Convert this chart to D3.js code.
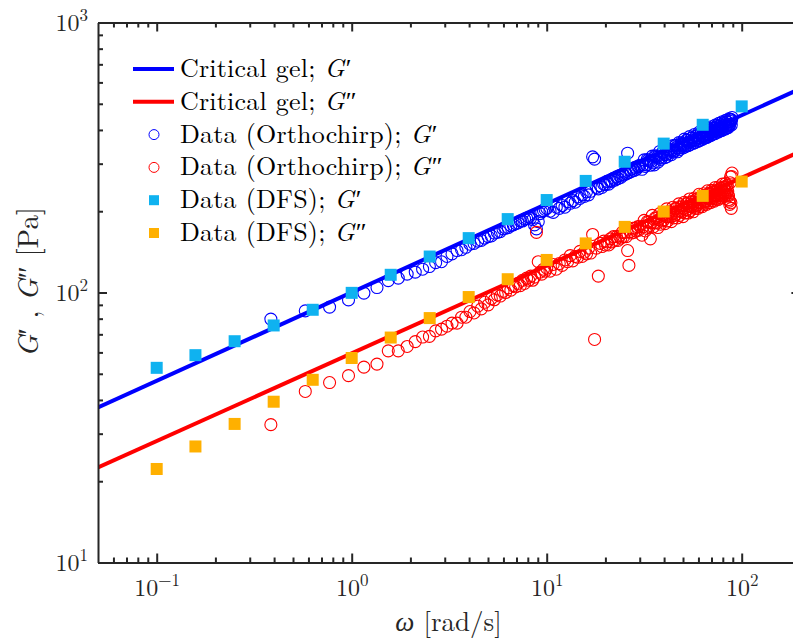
<!DOCTYPE html>
<html>
<head>
<meta charset="utf-8">
<script src="https://cdn.jsdelivr.net/npm/d3@7"></script>
<style>
  body { margin: 0; background: #fff; }
  svg text { font-family: "Latin Modern Roman", "CMU Serif", "Liberation Serif", "Times New Roman", serif; }
</style>
</head>
<body>
<svg id="chart" width="793" height="641"></svg>
<script>
// critical gel fit, evaluated at both ends of the x range
var gelOmega = [0.05, 200];
var gelGp = [37.5, 569];
var gelGpp = [22.5, 333];

// DFS (frequency sweep), 5 points per decade
var dfsOmega = [0.1, 0.158, 0.251, 0.398, 0.631, 1, 1.585, 2.512, 3.981, 6.31, 10, 15.85, 25.12, 39.81, 63.1, 100];
var dfsGp = [52.6, 58.6, 66.0, 75.5, 86.3, 99.7, 116.3, 135.9, 159, 187, 220, 259, 305, 356, 418, 489];
var dfsGpp = [22.2, 26.9, 32.6, 39.4, 47.5, 57.2, 68.1, 80.4, 96.2, 112, 132, 152, 175, 199.5, 228, 257.6];

// orthochirp
var orthoOmega = [
  0.385, 0.578, 0.770, 0.963, 1.155, 1.348, 1.540, 1.733, 1.925, 2.118, 2.310, 2.503, 2.695, 2.888,
  3.08, 3.27, 3.47, 3.66, 3.85, 4.04, 4.24, 4.43, 4.62, 4.81, 5.01, 5.20, 5.39, 5.58, 5.78, 5.97,
  6.16, 6.35, 6.55, 6.74, 6.93, 7.12, 7.32, 7.51, 7.70, 7.89, 8.09, 8.28, 8.47, 8.66, 8.86, 9.05,
  9.24, 9.43, 9.63, 9.82, 10.01,
  10.4, 10.8, 11.2, 11.6, 12, 12.4, 12.8, 13.2, 13.6, 14, 14.4, 14.8, 15.2, 15.6, 16, 16.4, 16.8,
  17.2, 17.6, 18, 18.4, 18.8, 19.2, 19.6, 20, 20.4, 20.8, 21.2, 21.6, 22, 22.4, 22.8, 23.2, 23.6,
  24, 24.4, 24.8, 25.2, 25.6, 26, 26.4, 26.8, 27.2, 27.6, 28, 28.4, 28.8, 29.2, 29.6, 30,
  30.8, 31.6, 32.4, 33.2, 34, 34.8, 35.6, 36.4, 37.2, 38, 38.8, 39.6, 40.4, 41.2, 42, 42.8, 43.6,
  44.4, 45.2, 46, 46.8, 47.6, 48.4, 49.2, 50, 50.8, 51.6, 52.4, 53.2, 54, 54.8, 55.6, 56.4, 57.2,
  58, 58.8, 59.6, 60.4, 61.2, 62, 62.8, 63.6, 64.4, 65.2, 66, 66.8, 67.6, 68.4, 69.2, 70, 70.8,
  71.6, 72.4, 73.2, 74, 74.8, 75.6, 76.4, 77.2, 78, 78.8, 79.6, 80.4, 81.2, 82, 82.8, 83.6, 84.4,
  85.2, 86, 86.8, 87.6, 88.4, 89.2,
  31.2, 32, 32.8, 33.6, 34.4, 35.2, 36, 36.8, 37.6, 38.4, 39.2, 40, 40.8, 41.6, 42.4, 43.2, 44,
  44.8, 45.6, 46.4, 47.2, 48, 48.8, 49.6, 50.4, 51.2, 52, 52.8, 53.6, 54.4, 55.2, 56, 56.8, 57.6,
  58.4, 59.2, 60, 60.8, 61.6, 62.4, 63.2, 64, 64.8, 65.6, 66.4, 67.2, 68, 68.8, 69.6, 70.4, 71.2,
  72, 72.8, 73.6, 74.4, 75.2, 76, 76.8, 77.6, 78.4, 79.2, 80, 80.8, 81.6, 82.4, 83.2, 84, 84.8,
  85.6, 86.4, 87.2, 88, 88.8
];
var orthoGp = [
  79.7, 85.5, 88.3, 93.9, 99.5, 104.3, 110.7, 113, 117, 119, 122, 124.8, 129, 130,
  136, 139, 143, 144, 147, 151, 152, 155, 156, 159, 161, 162, 166, 167, 168, 172,
  173, 174, 177, 178, 180, 181, 184, 184, 187, 188, 190, 189, 186, 178, 172, 183,
  196, 199, 201, 203, 205,
  200, 198, 207, 205, 210, 207, 217, 214, 219, 216, 226, 223, 230, 227, 236, 230, 237,
  318, 312, 245, 242, 249, 245, 252, 251, 258, 252, 259, 258, 265, 261, 268, 264, 271,
  267, 274, 272, 279, 275, 328, 278, 285, 281, 288, 283, 291, 286, 293, 292, 296,
  286, 310, 297, 309, 296, 320, 297, 319, 304, 333, 315, 331, 316, 342, 327, 339, 324,
  350, 335, 351, 332, 359, 343, 355, 343, 370, 350, 367, 350, 378, 361, 374, 357, 385,
  367, 381, 363, 392, 374, 391, 369, 398, 380, 394, 375, 405, 386, 404, 381, 411, 392,
  406, 387, 417, 398, 416, 393, 423, 404, 417, 398, 429, 409, 427, 403, 434, 414, 428,
  408, 440, 419, 438, 417, 445,
  297, 293, 311, 307, 306, 302, 321, 317, 315, 311, 330, 325, 324, 319, 338, 334, 336,
  331, 350, 345, 343, 338, 358, 353, 351, 346, 366, 360, 358, 353, 373, 367, 365, 359,
  380, 374, 372, 365, 386, 380, 378, 372, 393, 387, 384, 378, 399, 393, 390, 384, 405,
  399, 396, 389, 411, 404, 401, 395, 417, 410, 407, 400, 422, 415, 412, 405, 428, 420,
  417, 414, 437, 430, 436
];
var orthoGpp = [
  32.4, 43.0, 46.4, 49.2, 52.9, 54.3, 60.8, 60.8, 63.1, 65.8, 68.4, 68.8, 72.1, 73.2,
  75, 77, 77, 81, 81, 85, 84, 89, 87, 92, 90, 95, 94, 98, 97, 101,
  100, 104, 102, 106, 105, 108, 106, 111, 108, 113, 111, 115, 111, 114, 167, 130,
  119, 117, 122, 120, 123,
  120, 127, 122, 128, 126, 132, 130, 137, 131, 136, 135, 142, 136, 141, 139, 146, 140,
  164, 67, 146, 115, 152, 148, 155, 150, 154, 150, 158, 154, 161, 156, 161, 156, 162,
  159, 167, 161, 167, 161, 143, 126, 168, 166, 173, 167, 173, 169, 175, 170, 176,
  163, 185, 173, 182, 158, 193, 181, 188, 174, 196, 184, 193, 180, 204, 191, 198, 183,
  207, 193, 205, 189, 213, 200, 207, 191, 216, 202, 214, 197, 222, 208, 216, 199, 224,
  210, 222, 205, 231, 216, 223, 208, 232, 217, 229, 212, 238, 223, 231, 215, 239, 224,
  236, 218, 245, 229, 237, 221, 246, 230, 243, 224, 252, 236, 244, 227, 253, 236, 249,
  230, 221, 212, 268, 205, 277,
  175, 169, 183, 176, 181, 175, 189, 181, 186, 179, 194, 186, 191, 184, 199, 191, 196,
  189, 204, 195, 200, 193, 209, 199, 205, 197, 213, 203, 209, 201, 217, 207, 213, 205,
  221, 211, 216, 208, 225, 215, 220, 212, 229, 218, 224, 215, 233, 222, 227, 219, 236,
  225, 230, 222, 239, 228, 234, 225, 243, 231, 237, 228, 246, 234, 240, 231, 249, 237,
  228, 218, 255, 215, 269
];

var xMajor = [0.1, 1, 10, 100];
var yMajor = [10, 100, 1000];

var legendNames = ["Critical gel; ", "Critical gel; ", "Data (Orthochirp); ", "Data (Orthochirp); ", "Data (DFS); ", "Data (DFS); "];
var legendPrimes = ["\u2032", "\u2033", "\u2032", "\u2033", "\u2032", "\u2033"];
var legendKinds = ["line", "line", "circle", "circle", "square", "square"];
var legendColors = ["#0000ff", "#ff0000", "#0000ff", "#ff0000", "#0fb2f0", "#ffb000"];

var axisColor = "#262626";
var svg = d3.select("#chart");

var x = d3.scaleLog().domain([0.05, 200]).range([98, 800.4]);
var y = d3.scaleLog().domain([10, 1000]).range([562.5, 22.5]);

function minors(lo, hi) {
  var out = [];
  for (var p = lo; p < hi; p++) {
    for (var m = 2; m <= 9; m++) out.push(m * Math.pow(10, p));
  }
  return out;
}
var xMinor = minors(-2, 3).filter(function(v) { return v > 0.05 && v < 200; });
var yMinor = minors(1, 3);

svg.append("defs").append("clipPath").attr("id", "plotclip")
  .append("rect").attr("x", 98).attr("y", 22.5).attr("width", 702.4).attr("height", 540);

var plot = svg.append("g").attr("clip-path", "url(#plotclip)");

// critical gel lines
var line = d3.line()
  .x(function(d) { return x(d[0]); })
  .y(function(d) { return y(d[1]); });

plot.append("path").datum(d3.zip(gelOmega, gelGp))
  .attr("d", line).attr("fill", "none").attr("stroke", "#0000ff").attr("stroke-width", 4);
plot.append("path").datum(d3.zip(gelOmega, gelGpp))
  .attr("d", line).attr("fill", "none").attr("stroke", "#ff0000").attr("stroke-width", 4);

// orthochirp circles
var rCirc = 6;
plot.append("g").selectAll("circle")
  .data(d3.zip(orthoOmega, orthoGp))
  .enter().append("circle")
  .attr("cx", function(d) { return x(d[0]); })
  .attr("cy", function(d) { return y(d[1]); })
  .attr("r", rCirc)
  .attr("fill", "none").attr("stroke", "#0000ff").attr("stroke-width", 1.1);

plot.append("g").selectAll("circle")
  .data(d3.zip(orthoOmega, orthoGpp))
  .enter().append("circle")
  .attr("cx", function(d) { return x(d[0]); })
  .attr("cy", function(d) { return y(d[1]); })
  .attr("r", rCirc)
  .attr("fill", "none").attr("stroke", "#ff0000").attr("stroke-width", 1.1);

// DFS squares
var sq = 12;
plot.append("g").selectAll("rect")
  .data(d3.zip(dfsOmega, dfsGp))
  .enter().append("rect")
  .attr("x", function(d) { return x(d[0]) - sq / 2; })
  .attr("y", function(d) { return y(d[1]) - sq / 2; })
  .attr("width", sq).attr("height", sq)
  .attr("fill", "#0fb2f0");

plot.append("g").selectAll("rect")
  .data(d3.zip(dfsOmega, dfsGpp))
  .enter().append("rect")
  .attr("x", function(d) { return x(d[0]) - sq / 2; })
  .attr("y", function(d) { return y(d[1]) - sq / 2; })
  .attr("width", sq).attr("height", sq)
  .attr("fill", "#ffb000");

// axes
function styleAxis(g, keepDomain) {
  g.attr("font-size", null).attr("font-family", null);
  if (keepDomain) {
    g.select(".domain").attr("stroke", axisColor).attr("stroke-width", 2);
  } else {
    g.select(".domain").remove();
  }
  g.selectAll(".tick line").attr("stroke", axisColor).attr("stroke-width", 2);
  return g;
}

function expLabel(sel) {
  sel.each(function(d) {
    var t = d3.select(this).text(null);
    var e = Math.round(Math.log10(d));
    t.append("tspan").text("10");
    t.append("tspan").attr("dy", -10).attr("font-size", 17)
      .text(e < 0 ? "\u2212" + (-e) : String(e));
  });
}

var gxb = svg.append("g").attr("transform", "translate(0,562.5)")
  .call(d3.axisBottom(x).tickValues(xMajor).tickSizeInner(-9).tickSizeOuter(0));
styleAxis(gxb, true);
gxb.selectAll(".tick text").attr("y", 33).attr("dy", null)
  .attr("font-size", 24).attr("fill", axisColor).call(expLabel);

svg.append("g").attr("transform", "translate(0,562.5)")
  .call(d3.axisBottom(x).tickValues(xMinor).tickSizeInner(-5).tickSizeOuter(0).tickFormat(""))
  .call(styleAxis, false);

svg.append("g").attr("transform", "translate(0,22.5)")
  .call(d3.axisTop(x).tickValues(xMajor).tickSizeInner(-9).tickSizeOuter(0).tickFormat(""))
  .call(styleAxis, true);
svg.append("g").attr("transform", "translate(0,22.5)")
  .call(d3.axisTop(x).tickValues(xMinor).tickSizeInner(-5).tickSizeOuter(0).tickFormat(""))
  .call(styleAxis, false);

var gyl = svg.append("g").attr("transform", "translate(98,0)")
  .call(d3.axisLeft(y).tickValues(yMajor).tickSizeInner(-9).tickSizeOuter(0));
styleAxis(gyl, true);
gyl.selectAll(".tick text").attr("x", -10).attr("dy", "0.33em")
  .attr("font-size", 24).attr("fill", axisColor).call(expLabel);

svg.append("g").attr("transform", "translate(98,0)")
  .call(d3.axisLeft(y).tickValues(yMinor).tickSizeInner(-5).tickSizeOuter(0).tickFormat(""))
  .call(styleAxis, false);

svg.append("g").attr("transform", "translate(800.4,0)")
  .call(d3.axisRight(y).tickValues(yMajor).tickSizeInner(-9).tickSizeOuter(0).tickFormat(""))
  .call(styleAxis, true);

// axis labels
var xl = svg.append("text").attr("x", 448.5).attr("y", 631)
  .attr("text-anchor", "middle").attr("font-size", 27).attr("fill", axisColor);
xl.append("tspan").attr("font-style", "italic").attr("font-family", "Liberation Serif, serif").text("\u03c9");
xl.append("tspan").text(" [rad/s]");

var yl = svg.append("text").attr("transform", "translate(38,282) rotate(-90)")
  .attr("text-anchor", "middle").attr("font-size", 29).attr("fill", axisColor);
yl.append("tspan").attr("font-style", "italic").text("G");
yl.append("tspan").text("\u2032 , ");
yl.append("tspan").attr("font-style", "italic").text("G");
yl.append("tspan").text("\u2033 [Pa]");

// legend
var legend = svg.append("g");
legendNames.forEach(function(name, i) {
  var cy = 69 + i * 32.8;
  var c = legendColors[i];
  if (legendKinds[i] === "line") {
    legend.append("line").attr("x1", 133).attr("x2", 174).attr("y1", cy).attr("y2", cy)
      .attr("stroke", c).attr("stroke-width", 4);
  } else if (legendKinds[i] === "circle") {
    legend.append("circle").attr("cx", 154).attr("cy", cy).attr("r", 5)
      .attr("fill", "none").attr("stroke", c).attr("stroke-width", 1);
  } else {
    legend.append("rect").attr("x", 149).attr("y", cy - 5).attr("width", 10).attr("height", 10)
      .attr("fill", c);
  }
  var t = legend.append("text").attr("x", 180).attr("y", cy + 8)
    .attr("font-size", 26).attr("letter-spacing", 0.2).attr("fill", "#000");
  t.append("tspan").text(name);
  t.append("tspan").attr("font-style", "italic").text("G");
  t.append("tspan").attr("dx", 1).text(legendPrimes[i]);
});
</script>
</body>
</html>
